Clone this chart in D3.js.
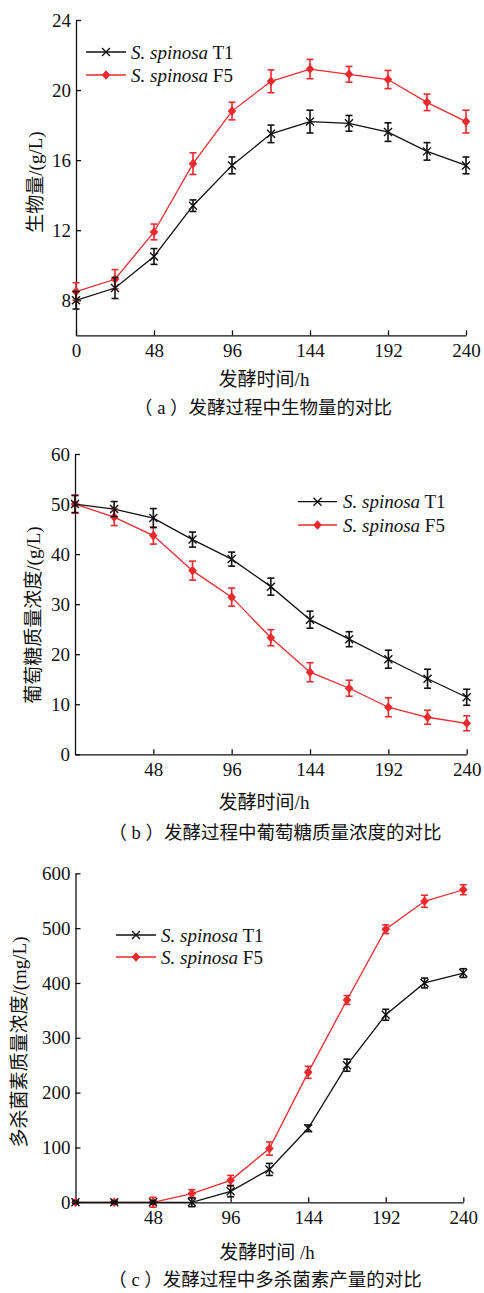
<!DOCTYPE html>
<html>
<head>
<meta charset="utf-8">
<script src="https://cdn.jsdelivr.net/npm/d3@7"></script>
<style>
  html, body { margin: 0; padding: 0; background: #fff; }
  svg { display: block; }
  text { font-family: "Liberation Serif", "Noto Sans CJK SC", serif; fill: #111; }
</style>
</head>
<body>
<svg id="chart" width="484" height="1293"></svg>
<script>
// ---------------- data ----------------
const timeH = [0, 24, 48, 72, 96, 120, 144, 168, 192, 216, 240];

const biomassT1    = [8.0, 8.7, 10.5, 13.4, 15.7, 17.5, 18.2, 18.1, 17.6, 16.5, 15.7];
const biomassT1Err = [0.5, 0.6, 0.45, 0.33, 0.48, 0.5, 0.65, 0.45, 0.53, 0.5, 0.48];
const biomassF5    = [8.5, 9.2, 11.9, 15.8, 18.8, 20.5, 21.2, 20.9, 20.6, 19.3, 18.2];
const biomassF5Err = [0.5, 0.55, 0.45, 0.62, 0.5, 0.65, 0.55, 0.45, 0.52, 0.47, 0.65];

const glucoseT1    = [50.0, 49.0, 47.2, 42.9, 39.0, 33.5, 26.9, 23.0, 19.0, 15.1, 11.4];
const glucoseT1Err = [1.7, 1.5, 1.9, 1.5, 1.4, 1.7, 1.7, 1.5, 1.8, 1.9, 1.6];
const glucoseF5    = [50.0, 47.4, 43.7, 36.7, 31.4, 23.3, 16.4, 13.2, 9.4, 7.4, 6.2];
const glucoseF5Err = [1.8, 1.7, 1.7, 1.9, 1.8, 1.6, 1.9, 1.6, 1.9, 1.4, 1.5];

const spinosadT1    = [0, 0, 0, 0, 20, 60, 135, 250, 342, 400, 418];
const spinosadT1Err = [2, 2, 3, 8, 10, 11, 6, 11, 10, 9, 8];
const spinosadF5    = [0, 0, 0, 16, 40, 98, 237, 369, 498, 549, 570];
const spinosadF5Err = [2, 2, 9, 7, 9, 12, 11, 8, 8, 11, 9];

const seriesNames = ["T1", "F5"];
const speciesName = "S. spinosa";

const xTicksA = [0, 48, 96, 144, 192, 240];
const xTicksBC = [48, 96, 144, 192, 240];
const yTicksA = [8, 12, 16, 20, 24];
const yTicksB = [0, 10, 20, 30, 40, 50, 60];
const yTicksC = [0, 100, 200, 300, 400, 500, 600];

const xTitleA = "发酵时间/h";
const xTitleB = "发酵时间/h";
const xTitleC = "发酵时间 /h";
const yTitleA = "生物量/(g/L)";
const yTitleB = "葡萄糖质量浓度/(g/L)";
const yTitleC = "多杀菌素质量浓度/(mg/L)";
const captionA = "（ a ）发酵过程中生物量的对比";
const captionB = "（ b ）发酵过程中葡萄糖质量浓度的对比";
const captionC = "（ c ）发酵过程中多杀菌素产量的对比";

// ---------------- drawing ----------------
const BLACK = "#111111";
const RED = "#ec2a2d";
const svg = d3.select("#chart");

function drawPanel(p) {
  const g = svg.append("g");
  const x = d3.scaleLinear().domain([0, 240]).range(p.xRange);
  const y = d3.scaleLinear().domain(p.yDomain).range(p.yRange);

  // axes
  const yAxis = d3.axisLeft(y).tickValues(p.yTicks).tickSizeInner(-5).tickSizeOuter(0).tickPadding(5);
  const xAxis = d3.axisBottom(x).tickValues(p.xTicks).tickSizeInner(-5).tickSizeOuter(0).tickPadding(8);

  const gy = g.append("g").attr("transform", `translate(${p.xRange[0]},0)`).call(yAxis);
  const gx = g.append("g").attr("transform", `translate(0,${p.yRange[0]})`).call(xAxis);
  [gx, gy].forEach(a => {
    a.selectAll("path.domain").attr("stroke", BLACK).attr("stroke-width", 1.3);
    a.selectAll(".tick line").attr("stroke", BLACK).attr("stroke-width", 1.3);
    a.selectAll(".tick text").attr("font-size", 19).attr("fill", BLACK)
      .attr("font-family", "Liberation Serif, serif");
  });

  // series: F5 (red) first, T1 (black) on top
  const series = [
    { vals: p.f5, err: p.f5Err, color: RED, marker: "diamond" },
    { vals: p.t1, err: p.t1Err, color: BLACK, marker: "cross" }
  ];
  const line = d3.line().x((d, i) => x(timeH[i])).y(d => y(d));

  series.forEach(s => {
    const sg = g.append("g");
    sg.append("path").datum(s.vals).attr("d", line)
      .attr("fill", "none").attr("stroke", s.color).attr("stroke-width", 1.3);
    // error bars
    const eb = sg.selectAll("g.eb").data(s.vals).join("g");
    eb.append("line")
      .attr("x1", (d, i) => x(timeH[i])).attr("x2", (d, i) => x(timeH[i]))
      .attr("y1", (d, i) => y(d - s.err[i])).attr("y2", (d, i) => y(d + s.err[i]))
      .attr("stroke", s.color).attr("stroke-width", 1.6);
    [1, -1].forEach(sign => {
      eb.append("line")
        .attr("x1", (d, i) => x(timeH[i]) - 3.5).attr("x2", (d, i) => x(timeH[i]) + 3.5)
        .attr("y1", (d, i) => y(d + sign * s.err[i])).attr("y2", (d, i) => y(d + sign * s.err[i]))
        .attr("stroke", s.color).attr("stroke-width", 1.6);
    });
    // markers
    s.vals.forEach((d, i) => {
      const cx = x(timeH[i]), cy = y(d);
      drawMarker(sg, s.marker, cx, cy, s.color);
    });
  });

  // legend
  const lg = g.append("g");
  seriesNames.forEach((name, k) => {
    const color = k === 0 ? BLACK : RED;
    const marker = k === 0 ? "cross" : "diamond";
    const ly = p.legend.y[k];
    lg.append("line").attr("x1", p.legend.x0).attr("x2", p.legend.x1)
      .attr("y1", ly).attr("y2", ly).attr("stroke", color).attr("stroke-width", 1.3);
    drawMarker(lg, marker, (p.legend.x0 + p.legend.x1) / 2, ly, color);
    const t = lg.append("text").attr("x", p.legend.tx).attr("y", ly)
      .attr("dy", "0.35em").attr("font-size", 19).attr("font-family", "Liberation Serif, serif");
    t.append("tspan").attr("font-style", "italic").text(speciesName);
    t.append("tspan").text(" " + name);
  });

  // axis titles
  g.append("text").attr("x", p.xTitle.x).attr("y", p.xTitle.y).attr("text-anchor", "middle")
    .attr("dy", "0.35em").attr("font-size", 19).text(p.xTitle.text);
  g.append("text").attr("transform", `translate(${p.yTitle.x},${p.yTitle.y}) rotate(-90)`)
    .attr("text-anchor", "middle").attr("dy", "0.35em").attr("font-size", 19).text(p.yTitle.text);
  g.append("text").attr("x", p.caption.x).attr("y", p.caption.y).attr("text-anchor", "middle")
    .attr("dy", "0.35em").attr("font-size", 18.5).text(p.caption.text);
}

function drawMarker(sel, type, cx, cy, color) {
  if (type === "cross") {
    const r = 4;
    sel.append("path")
      .attr("d", `M${cx - r},${cy - r}L${cx + r},${cy + r}M${cx - r},${cy + r}L${cx + r},${cy - r}`)
      .attr("stroke", color).attr("stroke-width", 1.4).attr("fill", "none");
  } else {
    const rx = 4.3, ry = 4.8;
    sel.append("path")
      .attr("d", `M${cx},${cy - ry}L${cx + rx},${cy}L${cx},${cy + ry}L${cx - rx},${cy}Z`)
      .attr("fill", color).attr("stroke", "none");
  }
}

drawPanel({
  xRange: [76, 466], yDomain: [6, 24], yRange: [335.3, 20],
  xTicks: xTicksA, yTicks: yTicksA,
  t1: biomassT1, t1Err: biomassT1Err, f5: biomassF5, f5Err: biomassF5Err,
  legend: { x0: 86, x1: 126, tx: 131, y: [52, 75] },
  xTitle: { x: 264, y: 379, text: xTitleA },
  yTitle: { x: 35, y: 182, text: yTitleA },
  caption: { x: 263, y: 408, text: captionA }
});

drawPanel({
  xRange: [75, 466.7], yDomain: [0, 60], yRange: [754.3, 454],
  xTicks: xTicksBC, yTicks: yTicksB,
  t1: glucoseT1, t1Err: glucoseT1Err, f5: glucoseF5, f5Err: glucoseF5Err,
  legend: { x0: 298, x1: 337, tx: 343, y: [501.7, 525] },
  xTitle: { x: 264, y: 802, text: xTitleB },
  yTitle: { x: 33, y: 615, text: yTitleB },
  caption: { x: 275, y: 833, text: captionB }
});

drawPanel({
  xRange: [75.5, 463.3], yDomain: [0, 600], yRange: [1202.3, 873.3],
  xTicks: xTicksBC, yTicks: yTicksC,
  t1: spinosadT1, t1Err: spinosadT1Err, f5: spinosadF5, f5Err: spinosadF5Err,
  legend: { x0: 116, x1: 156, tx: 161, y: [935, 957] },
  xTitle: { x: 267, y: 1252, text: xTitleC },
  yTitle: { x: 19, y: 1042, text: yTitleC },
  caption: { x: 265, y: 1280, text: captionC }
});
</script>
</body>
</html>
